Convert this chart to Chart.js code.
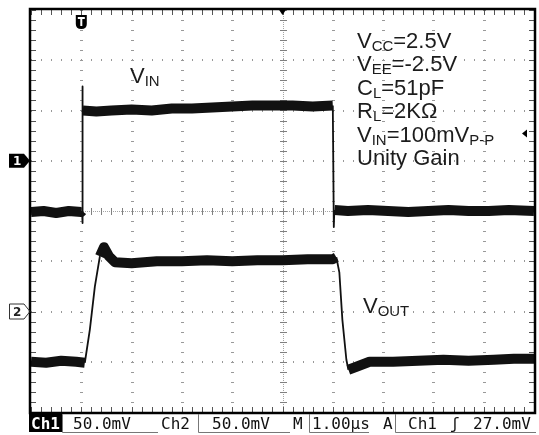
<!DOCTYPE html>
<html>
<head>
<meta charset="utf-8">
<script src="https://cdn.jsdelivr.net/npm/chart.js@4/dist/chart.umd.min.js"></script>
<style>
  html, body { margin: 0; padding: 0; background: #fff; }
  #wrap { width: 539px; height: 435px; }
</style>
</head>
<body>
<div id="wrap"><canvas id="scope" width="539" height="435"></canvas></div>
<script>
// time in microseconds (1.00us/div), voltages in mV (50.0mV/div)
const vinT = [0, 0.25, 0.5, 0.75, 1.0, 1.015, 1.02, 1.025, 1.03, 1.3, 1.6, 2.0, 2.4, 2.8, 3.2, 3.6, 4.0, 4.4, 4.8, 5.2, 5.6, 6.0, 6.02, 6.03, 6.035, 6.3, 6.7, 7.1, 7.5, 7.9, 8.3, 8.7, 9.1, 9.5, 10]
const vinMv = [-51, -50, -52, -50, -51, -50, -62, 74, 50, 49, 50, 51, 50, 52, 52, 53, 54, 55, 55, 55, 54, 55, -66, -50, -49, -50, -49, -50, -51, -50, -49, -50, -50, -49, -50]

const voutT = [0, 0.3, 0.6, 0.9, 1.07, 1.17, 1.27, 1.37, 1.45, 1.55, 1.67, 2.0, 2.5, 3.0, 3.5, 4.0, 4.5, 5.0, 5.5, 6.0, 6.07, 6.13, 6.19, 6.27, 6.31, 6.47, 6.73, 7.2, 7.7, 8.2, 8.7, 9.2, 9.6, 10]
const voutMv = [-50, -51, -49, -50, -51, -18, 25, 55, 64, 55, 49, 48, 50, 50, 51, 50, 51, 51, 52, 52, 54, 39, -8, -48, -58, -55, -50, -50, -49, -48, -49, -48, -47, -47]

// screen: 10 x 8 divisions
const xDivs = [0, 1, 2, 3, 4, 5, 6, 7, 8, 9, 10]
const ch1Range = [-250, 150]   // ch1 ground one division above centre
const ch2Range = [-100, 300]   // ch2 ground two divisions below centre

const notes = [
    [['V', ''], ['CC', 'sub'], ['=2.5V', '']],
    [['V', ''], ['EE', 'sub'], ['=-2.5V', '']],
    [['C', ''], ['L', 'sub'], ['=51pF', '']],
    [['R', ''], ['L', 'sub'], ['=2K\u03A9', '']],
    [['V', ''], ['IN', 'sub'], ['=100mV', ''], ['P-P', 'sub']],
    [['Unity Gain', '']]
]
const statusBar = ['Ch1', '50.0mV', 'Ch2', '50.0mV', 'M', '1.00\u00B5s', 'A', 'Ch1', '\u0283', '27.0mV']

const toPoints = (xs, ys) => xs.map((x, i) => ({ x: x, y: ys[i] }))

// thin stroke on steep edges, fat noisy band on the flat parts
const edgeWidth = (ctx) => {
    const dx = Math.abs(ctx.p1.x - ctx.p0.x)
    const dy = Math.abs(ctx.p1.y - ctx.p0.y)
    return dy > dx * 3 ? 1.8 : 10
}

function drawRich(c, parts, x, y, size) {
    parts.forEach(([txt, kind]) => {
        const fs = kind == 'sub' ? size * 0.68 : size
        c.font = fs + 'px "Liberation Sans", Arial, sans-serif'
        c.fillText(txt, x, kind == 'sub' ? y + 3 : y)
        x += c.measureText(txt).width
    })
}

const scopeGrid = {
    id: 'scopeGrid',
    beforeDatasetsDraw(chart) {
        const c = chart.ctx
        const xs = chart.scales.x
        const ys = chart.scales.y1
        const { left, right, top, bottom } = chart.chartArea
        const dy = (ys.getPixelForValue(ch1Range[0]) - ys.getPixelForValue(ch1Range[0] + 50)) / 5
        const dx = (xs.getPixelForValue(1) - xs.getPixelForValue(0)) / 5
        c.save()
        c.fillStyle = '#999'
        // dotted graticule
        xDivs.slice(1, -1).forEach(d => {
            if (d == 5) return
            const px = Math.round(xs.getPixelForValue(d))
            for (let y = top; y <= bottom; y += dy) c.fillRect(px - 1, Math.round(y), 3, 1)
        })
        for (let v = ch1Range[0] + 50; v < ch1Range[1]; v += 50) {
            if (v == -50) continue
            const py = Math.round(ys.getPixelForValue(v))
            for (let x = left; x <= right; x += dx) c.fillRect(Math.round(x), py - 1, 1, 2)
        }
        // centre cross with minor ticks
        const cx = Math.round(xs.getPixelForValue(5))
        const cy = Math.round(ys.getPixelForValue(-50))
        c.fillStyle = '#a5a5a5'
        for (let y = top; y <= bottom; y += 2) c.fillRect(cx, Math.round(y), 1, 1)
        for (let x = left; x <= right; x += 2) c.fillRect(Math.round(x), cy, 1, 1)
        c.fillStyle = '#808080'
        for (let y = top; y <= bottom; y += dy) c.fillRect(cx - 3, Math.round(y), 7, 1)
        for (let x = left; x <= right; x += dx) c.fillRect(Math.round(x), cy - 3, 1, 7)
        // ticks on frame
        c.fillStyle = '#555'
        for (let x = left; x <= right; x += dx) {
            c.fillRect(Math.round(x), top, 1, 5)
            c.fillRect(Math.round(x), bottom - 5, 1, 5)
        }
        for (let y = top; y <= bottom; y += dy) {
            c.fillRect(left, Math.round(y), 5, 1)
            c.fillRect(right - 5, Math.round(y), 5, 1)
        }
        c.restore()
    },
    afterDatasetsDraw(chart) {
        const c = chart.ctx
        const xs = chart.scales.x
        const y1 = chart.scales.y1
        const y2 = chart.scales.y2
        const { left, right, top, bottom } = chart.chartArea
        c.save()
        // frame
        c.strokeStyle = '#000'
        c.lineWidth = 2.5
        c.strokeRect(left - 1, top - 1, right - left + 2, bottom - top + 2)

        // centre marker on top, trigger level marker on right
        const cx = xs.getPixelForValue(5)
        c.fillStyle = '#000'
        c.beginPath()
        c.moveTo(cx - 4, top - 1); c.lineTo(cx + 4, top - 1); c.lineTo(cx, top + 5)
        c.fill()
        const ty = y1.getPixelForValue(27)
        c.beginPath()
        c.moveTo(right - 12, ty); c.lineTo(right - 7, ty - 4); c.lineTo(right - 7, ty + 4)
        c.fill()

        // trigger position "T"
        const tx = xs.getPixelForValue(1)
        c.beginPath()
        c.moveTo(tx - 5.5, top + 5); c.lineTo(tx + 5.5, top + 5); c.lineTo(tx + 5.5, top + 14)
        c.quadraticCurveTo(tx + 5.5, top + 19, tx, top + 19)
        c.quadraticCurveTo(tx - 5.5, top + 19, tx - 5.5, top + 14)
        c.fill()
        c.fillStyle = '#fff'
        c.fillRect(tx - 3.5, top + 7, 7, 2)
        c.fillRect(tx - 1, top + 7, 2, 9)

        // channel ground markers
        const g1 = y1.getPixelForValue(0)
        c.fillStyle = '#000'
        c.beginPath()
        c.moveTo(9, g1 - 7); c.lineTo(24, g1 - 7); c.lineTo(30, g1); c.lineTo(24, g1 + 7); c.lineTo(9, g1 + 7)
        c.closePath(); c.fill()
        c.fillStyle = '#fff'
        c.font = 'bold 12px "DejaVu Sans", sans-serif'
        c.textBaseline = 'middle'
        c.fillText('1', 13, g1 + 1)
        const g2 = y2.getPixelForValue(0)
        c.strokeStyle = '#333'
        c.lineWidth = 1
        c.beginPath()
        c.moveTo(9.5, g2 - 7.5); c.lineTo(24, g2 - 7.5); c.lineTo(30, g2); c.lineTo(24, g2 + 7.5); c.lineTo(9.5, g2 + 7.5)
        c.closePath(); c.stroke()
        c.fillStyle = '#222'
        c.fillText('2', 13, g2 + 1)

        // labels and test conditions
        c.textBaseline = 'alphabetic'
        c.fillStyle = '#1c1c1c'
        drawRich(c, [['V', ''], ['IN', 'sub']], 130, 83, 22)
        drawRich(c, [['V', ''], ['OUT', 'sub']], 363, 313, 22)
        notes.forEach((parts, i) => drawRich(c, parts, 357, 48 + i * 23.4, 22))

        // status bar
        const barTop = bottom + 2
        const barBot = 432
        c.fillStyle = '#000'
        c.fillRect(29, barTop, 33, barBot - barTop)
        c.strokeStyle = '#777'
        c.lineWidth = 1
        ;[[62, 158], [198, 290], [309, 369], [395, 536]].forEach(([a, b]) => {
            c.beginPath()
            c.moveTo(a + 0.5, barTop); c.lineTo(a + 0.5, barBot + 0.5); c.lineTo(b, barBot + 0.5)
            c.stroke()
        })
        const barX = [31, 73, 161, 212, 293, 312, 383, 408, 450, 473]
        statusBar.forEach((s, i) => {
            c.fillStyle = i == 0 ? '#fff' : '#111'
            c.font = (i == 0 ? 'bold ' : '') + '16px "DejaVu Sans Mono", monospace'
            c.fillText(s, barX[i], 429)
        })
        c.restore()
    }
}

new Chart(document.getElementById('scope'), {
    type: 'line',
    data: {
        datasets: [{
            label: 'VIN',
            data: toPoints(vinT, vinMv),
            yAxisID: 'y1',
            borderColor: '#111',
            borderWidth: 10,
            borderJoinStyle: 'round',
            pointRadius: 0,
            tension: 0,
            segment: { borderWidth: edgeWidth }
        }, {
            label: 'VOUT',
            data: toPoints(voutT, voutMv),
            yAxisID: 'y2',
            borderColor: '#111',
            borderWidth: 10,
            borderJoinStyle: 'round',
            pointRadius: 0,
            tension: 0,
            segment: { borderWidth: edgeWidth }
        }]
    },
    options: {
        responsive: false,
        animation: false,
        devicePixelRatio: 1,
        layout: { padding: { left: 31, right: 5, top: 10, bottom: 23 } },
        plugins: {
            legend: { display: false },
            tooltip: { enabled: false }
        },
        scales: {
            x: { type: 'linear', min: xDivs[0], max: xDivs[xDivs.length - 1], display: false },
            y1: { type: 'linear', min: ch1Range[0], max: ch1Range[1], display: false },
            y2: { type: 'linear', min: ch2Range[0], max: ch2Range[1], display: false }
        }
    },
    plugins: [scopeGrid]
})
</script>
</body>
</html>
